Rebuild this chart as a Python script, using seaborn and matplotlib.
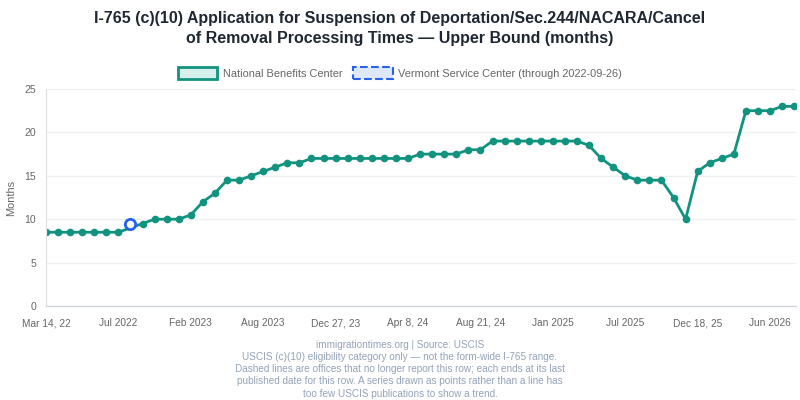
import numpy as np
import pandas as pd
import matplotlib
matplotlib.use("Agg")
import matplotlib.pyplot as plt
import seaborn as sns
from matplotlib.patches import Patch

# values (months, upper bound)
nbc_months = [8.5, 8.5, 8.5, 8.5, 8.5, 8.5, 8.5, np.nan, 9.5, 10,
              10, 10, 10.5, 12, 13, 14.5, 14.5, 15, 15.5, 16,
              16.5, 16.5, 17, 17, 17, 17, 17, 17, 17, 17,
              17, 17.5, 17.5, 17.5, 17.5, 18, 18, 19, 19, 19,
              19, 19, 19, 19, 19, 18.5, 17, 16, 15, 14.5,
              14.5, 14.5, 12.5, 10, 15.5, 16.5, 17, 17.5, 22.5, 22.5,
              22.5, 23, 23]
vsc_index = [7]
vsc_months = [9.5]

tick_pos = [0, 6, 12, 18, 24, 30, 36, 42, 48, 54, 60]
tick_labels = ["Mar 14, 22", "Jul 2022", "Feb 2023", "Aug 2023", "Dec 27, 23",
               "Apr 8, 24", "Aug 21, 24", "Jan 2025", "Jul 2025", "Dec 18, 25",
               "Jun 2026"]

teal = "#12937f"
blue = "#2563eb"
grey_text = "#666666"
foot_color = "#94a3b8"
grid_color = "#eceff4"

sns.set_theme(style="white")
plt.rcParams['font.family'] = ['Liberation Sans', 'DejaVu Sans']

df = pd.DataFrame({"idx": np.arange(len(nbc_months)), "months": nbc_months})
vsc = pd.DataFrame({"idx": vsc_index, "months": vsc_months})

fig = plt.figure(figsize=(8, 4), dpi=100)
ax = fig.add_axes([46 / 800, 1 - 306 / 400, 750 / 800, 217 / 400])

# seaborn drops the missing point, so the line runs straight across the gap
sns.lineplot(data=df.dropna(), x="idx", y="months", ax=ax, color=teal,
             linewidth=2, marker="o", markersize=5.5, markeredgewidth=0)
sns.scatterplot(data=vsc, x="idx", y="months", ax=ax, s=55, facecolor="white",
                edgecolor=blue, linewidth=2, zorder=5)

ax.set_xlim(0, 62.15)
ax.set_ylim(0, 25)
ax.set_yticks([0, 5, 10, 15, 20, 25])
ax.set_xticks(tick_pos)
ax.set_xticklabels(tick_labels)
ax.tick_params(axis="x", labelsize=7.3, colors=grey_text, length=0, pad=9)
ax.tick_params(axis="y", labelsize=7.6, labelcolor=grey_text, color=grid_color,
               length=7, width=0.9, pad=0)
ax.set_xlabel("")
ax.set_ylabel("Months", fontsize=7.9, color=grey_text)
ax.yaxis.set_label_coords(-0.04, 0.5)
ax.grid(axis="y", color=grid_color, linewidth=0.9)
for side in ["top", "right"]:
    ax.spines[side].set_visible(False)
ax.spines["left"].set_color("#dde1e6")
ax.spines["bottom"].set_color("#cfd4da")
ax.spines["left"].set_linewidth(0.9)
ax.spines["bottom"].set_linewidth(0.9)

fig.text(0.5, 1 - 28.5 / 400,
         "I-765 (c)(10) Application for Suspension of Deportation/Sec.244/NACARA/Cancel\n"
         "of Removal Processing Times \u2014 Upper Bound (months)",
         ha="center", va="center", fontsize=11.5, fontweight="bold",
         color="#1f2733", linespacing=1.4)

handles = [
    Patch(facecolor="#d5f0eb", edgecolor=teal, linewidth=2),
    Patch(facecolor="#dde8fd", edgecolor=blue, linewidth=1.5, linestyle="--"),
]
fig.legend(handles, ["National Benefits Center", "Vermont Service Center (through 2022-09-26)"],
           loc="center", bbox_to_anchor=(0.5, 1 - 73 / 400), ncol=2, frameon=False,
           fontsize=7.9, labelcolor=grey_text, handlelength=3.6, handleheight=1.2,
           handletextpad=0.5, columnspacing=1.0)

footer = ("immigrationtimes.org | Source: USCIS\n"
          "USCIS (c)(10) eligibility category only \u2014 not the form-wide I-765 range.\n"
          "Dashed lines are offices that no longer report this row; each ends at its last\n"
          "published date for this row. A series drawn as points rather than a line has\n"
          "too few USCIS publications to show a trend.")
fig.text(0.5, 1 - 340 / 400, footer, ha="center", va="top", fontsize=7.2,
         color=foot_color, linespacing=1.27)

fig.savefig("out.png", dpi=100)
